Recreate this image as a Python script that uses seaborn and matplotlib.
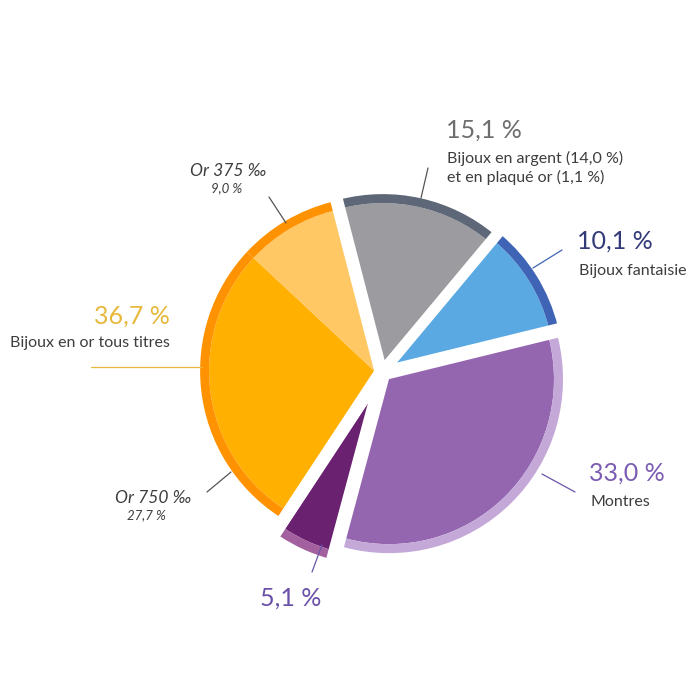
import matplotlib.pyplot as plt
import seaborn as sns
import numpy as np
from matplotlib.patches import Wedge

# ---- data (clockwise from the top) ----
segments = ["Bijoux en argent et plaqué or", "Bijoux fantaisie", "Montres", "Autres", "Or 750 ‰", "Or 375 ‰"]
shares = [15.1, 10.1, 33.0, 5.1, 27.7, 9.0]
group_of = [0, 1, 2, 3, 4, 4]            # the two gold wedges stay together
fill_colors = ["#9b9ba0", "#5aa9e2", "#9566b0", "#6a2170", "#ffb000", "#ffc864"]
rim_colors = ["#5d6777", "#3f64b5", "#c3a8d8", "#a2609f", "#ff9200", "#ff9200"]
group_push = [4, 8, 10, 20, 8]           # explode per group, pixels

sns.set_style("white")
plt.rcParams['font.family'] = ['Lato', 'DejaVu Sans']

fig = plt.figure(figsize=(7, 7), dpi=100)
ax = fig.add_axes([0, 0, 1, 1])
ax.set_xlim(0, 700)
ax.set_ylim(0, 700)
ax.axis("off")

def Y(y):  # picture coords (top = 0) -> data coords
    return 700 - y

cx, cy = 382, Y(372)
R = 174
rim = 9
start = 104.5

vals = np.array(shares)
ends = start - np.cumsum(vals) * 3.6
begins = ends + vals * 3.6

# mid angle of each group
group_mid = {}
for g in set(group_of):
    idx = [i for i in range(len(vals)) if group_of[i] == g]
    group_mid[g] = (begins[idx[0]] + ends[idx[-1]]) / 2
group_mid[3] += 6   # the small purple slice is pushed straight down

for i in range(len(vals)):
    g = group_of[i]
    a = np.deg2rad(group_mid[g])
    c = (cx + group_push[g] * np.cos(a), cy + group_push[g] * np.sin(a))
    ax.add_patch(Wedge(c, R - rim, ends[i], begins[i], facecolor=fill_colors[i], edgecolor="none"))
    ax.add_patch(Wedge(c, R, ends[i], begins[i], width=rim, facecolor=rim_colors[i], edgecolor="none"))

# white gaps between groups
for i in range(len(vals)):
    nxt = (i + 1) % len(vals)
    if group_of[i] != group_of[nxt]:
        a = np.deg2rad(ends[i])
        ax.plot([cx, cx + (R + 30) * np.cos(a)], [cy, cy + (R + 30) * np.sin(a)],
                color="white", lw=8, solid_capstyle="butt", zorder=3)

# ---- labels ----
big = dict(fontsize=18)
small = dict(fontsize=11.5, color="#3d3d3d")
ital = dict(fontsize=12.5, color="#3d3d3d", style="italic")
ital_sub = dict(fontsize=9.5, color="#3d3d3d", style="italic")

ax.text(446, Y(130), "15,1 %", color="#6e6e6e", va="center", ha="left", **big)
ax.text(447, Y(158), "Bijoux en argent (14,0 %)", va="center", ha="left", **small)
ax.text(447, Y(177), "et en plaqué or (1,1 %)", va="center", ha="left", **small)
ax.plot([428, 421], [Y(168), Y(198)], color="#555555", lw=0.9)

ax.text(577, Y(241), "10,1 %", color="#323a78", va="center", ha="left", **big)
ax.text(579, Y(271), "Bijoux fantaisie", va="center", ha="left", **small)
ax.plot([562, 533], [Y(250), Y(268)], color="#3f64b5", lw=0.9)

ax.text(589, Y(473), "33,0 %", color="#7a5cb2", va="center", ha="left", **big)
ax.text(591, Y(502), "Montres", va="center", ha="left", **small)
ax.plot([575, 542], [Y(492), Y(474)], color="#6a55a8", lw=0.9)

ax.text(291, Y(598), "5,1 %", color="#6a50a8", va="center", ha="center", **big)
ax.plot([312, 322], [Y(572), Y(545)], color="#6a55a8", lw=0.9)

ax.text(170, Y(316), "36,7 %", color="#e6b83c", va="center", ha="right", **big)
ax.text(170, Y(343), "Bijoux en or tous titres", va="center", ha="right", **small)
ax.plot([91, 202], [Y(367), Y(367)], color="#e6b83c", lw=0.9)

ax.text(228, Y(171), "Or 375 ‰", va="center", ha="center", **ital)
ax.text(227, Y(188), "9,0 %", va="center", ha="center", **ital_sub)
ax.plot([269, 286], [Y(197), Y(223)], color="#555555", lw=0.9)

ax.text(153, Y(498), "Or 750 ‰", va="center", ha="center", **ital)
ax.text(146, Y(515), "27,7 %", va="center", ha="center", **ital_sub)
ax.plot([207, 231], [Y(492), Y(472)], color="#555555", lw=0.9)

fig.savefig("out.png", dpi=100)
